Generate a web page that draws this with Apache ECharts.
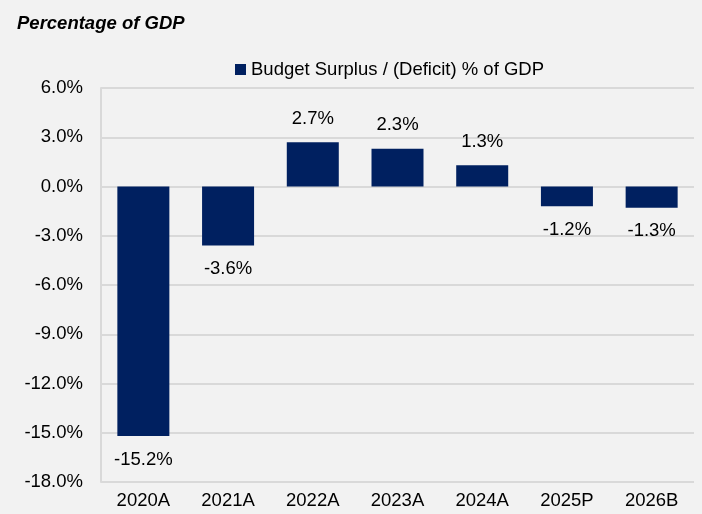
<!DOCTYPE html>
<html>
<head>
<meta charset="utf-8">
<script src="https://cdn.jsdelivr.net/npm/echarts@6/dist/echarts.min.js"></script>
<style>
  html, body { margin: 0; padding: 0; background: #f2f2f2; }
  #chart { width: 702px; height: 514px; }
</style>
</head>
<body>
<div id="chart"></div>
<script>
  var years = ['2020A', '2021A', '2022A', '2023A', '2024A', '2025P', '2026B'];
  var balance = [-15.2, -3.6, 2.7, 2.3, 1.3, -1.2, -1.3];

  var chart = echarts.init(document.getElementById('chart'));
  var option = {
    backgroundColor: '#f2f2f2',
    textStyle: { fontFamily: 'Liberation Sans, Arial, sans-serif' },
    title: {
      text: 'Percentage of GDP',
      left: 12,
      top: 9,
      textStyle: { fontSize: 18.5, fontWeight: 'bold', fontStyle: 'italic', color: '#000' }
    },
    legend: {
      data: ['Budget Surplus / (Deficit) % of GDP'],
      left: 230,
      top: 55,
      icon: 'rect',
      itemWidth: 11,
      itemHeight: 11,
      itemGap: 6,
      textStyle: { fontSize: 18.5, color: '#000' }
    },
    grid: { left: 101, right: 8, top: 88, bottom: 32 },
    xAxis: {
      type: 'category',
      data: years,
      position: 'bottom',
      axisLine: { show: false },
      axisTick: { show: false },
      axisLabel: { fontSize: 18.5, color: '#000', margin: 9 }
    },
    yAxis: {
      type: 'value',
      min: -18,
      max: 6,
      interval: 3,
      axisLine: { show: true, lineStyle: { color: '#d9d9d9', width: 2 } },
      axisTick: { show: false },
      splitLine: { lineStyle: { color: '#d9d9d9', width: 2 } },
      axisLabel: {
        fontSize: 18.5,
        color: '#000',
        margin: 18,
        formatter: function (v) { return v.toFixed(1) + '%'; }
      }
    },
    series: [{
      name: 'Budget Surplus / (Deficit) % of GDP',
      type: 'bar',
      data: balance.map(function (v) {
        return {
          value: v,
          label: { position: v >= 0 ? 'top' : 'bottom' }
        };
      }),
      barWidth: 52,
      itemStyle: { color: '#002060' },
      label: {
        show: true,
        fontSize: 18.5,
        color: '#000',
        distance: 14,
        formatter: function (p) { return p.value.toFixed(1) + '%'; }
      }
    }]
  };
  chart.setOption(option);
</script>
</body>
</html>
